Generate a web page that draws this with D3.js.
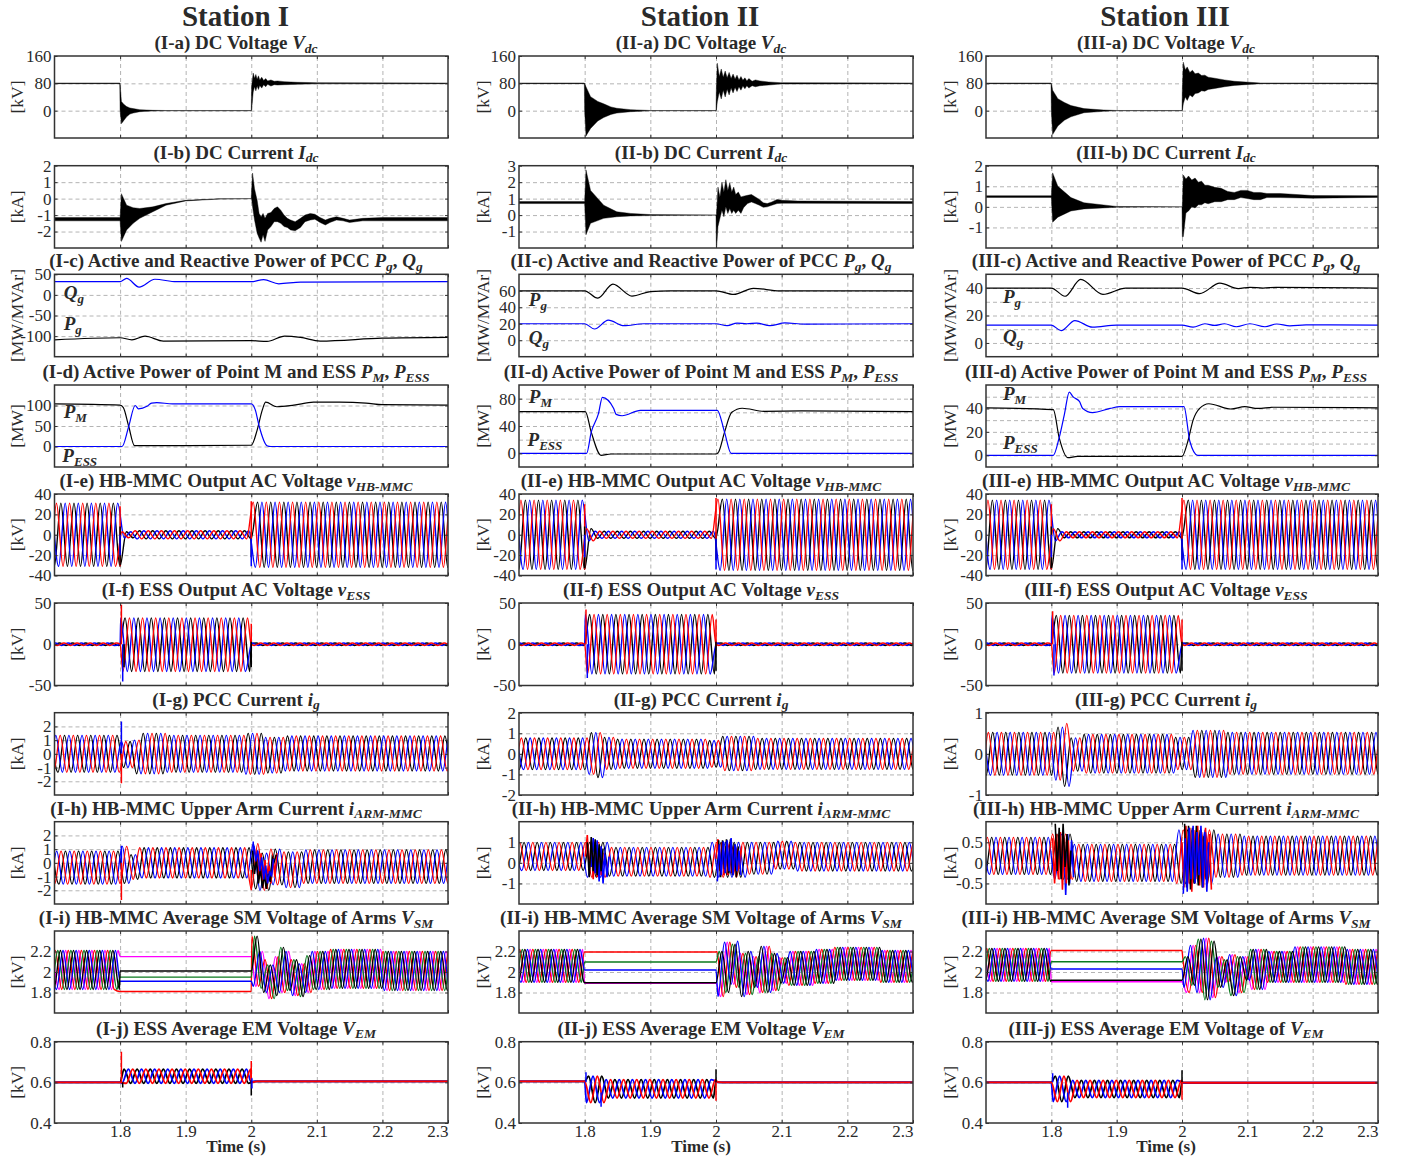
<!DOCTYPE html>
<html>
<head>
<meta charset="utf-8">
<script src="https://cdn.jsdelivr.net/npm/d3@7/dist/d3.min.js"></script>
<style>
  body { margin: 0; background: #fff; }
  svg text { font-family: "Liberation Serif", serif; fill: #2a2a2a; }
</style>
</head>
<body>
<svg id="chart" width="1402" height="1161"></svg>
<script>
// ---- labels ----
var stations = ['I', 'II', 'III'];
var rowLetters = 'abcdefghij'.split('');
var rowNames = ['DC Voltage', 'DC Current', 'Active and Reactive Power of PCC', 'Active Power of Point M and ESS',
  'HB-MMC Output AC Voltage', 'ESS Output AC Voltage', 'PCC Current', 'HB-MMC Upper Arm Current',
  'HB-MMC Average SM Voltage of Arms', 'ESS Average EM Voltage'];
var rowVars = [[['V', 'dc']], [['I', 'dc']], [['P', 'g'], ['Q', 'g']], [['P', 'M'], ['P', 'ESS']], [['v', 'HB-MMC']],
  [['v', 'ESS']], [['i', 'g']], [['i', 'ARM-MMC']], [['V', 'SM']], [['V', 'EM']]];
var rowUnits = ['[kV]', '[kA]', '[MW/MVAr]', '[MW]', '[kV]', '[kV]', '[kA]', '[kA]', '[kV]', '[kV]'];
var timeTicks = [1.8, 1.9, 2, 2.1, 2.2, 2.3];

// ---- y axes, [row][station] ----
var yDomains = [
  [[-80, 160], [-80, 160], [-80, 160]],
  [[-3, 2], [-2, 3], [-2, 2]],
  [[-150, 50], [-20, 80], [-10, 50]],
  [[-50, 150], [-20, 100], [-10, 60]],
  [[-40, 40], [-40, 40], [-40, 40]],
  [[-50, 50], [-50, 50], [-50, 50]],
  [[-3, 3], [-2, 2], [-1, 1]],
  [[-3, 3], [-2, 2], [-1, 1]],
  [[1.6, 2.4], [1.6, 2.4], [1.6, 2.4]],
  [[0.4, 0.8], [0.4, 0.8], [0.4, 0.8]]
];
var yTicks = [
  [[160, 80, 0], [160, 80, 0], [160, 80, 0]],
  [[2, 1, 0, -1, -2], [3, 2, 1, 0, -1], [2, 1, 0, -1]],
  [[50, 0, -50, -100], [60, 40, 20, 0], [40, 20, 0]],
  [[100, 50, 0], [80, 40, 0], [40, 20, 0]],
  [[40, 20, 0, -20, -40], [40, 20, 0, -20, -40], [40, 20, 0, -20, -40]],
  [[50, 0, -50], [50, 0, -50], [50, 0, -50]],
  [[2, 1, 0, -1, -2], [2, 1, 0, -1, -2], [1, 0, -1]],
  [[2, 1, 0, -1, -2], [1, 0, -1], [0.5, 0, -0.5]],
  [[2.2, 2, 1.8], [2.2, 2, 1.8], [2.2, 2, 1.8]],
  [[0.8, 0.6, 0.4], [0.8, 0.6, 0.4], [0.8, 0.6, 0.4]]
];
var yGrids = [
  [[80, 0], [80, 0], [80, 0]],
  [[1, 0, -1, -2], [2, 1, 0, -1], [1, 0, -1]],
  [[0, -50, -100], [60, 40, 20, 0], [40, 30, 20, 10, 0]],
  [[100, 50, 0], [80, 60, 40, 20, 0], [50, 40, 30, 20, 10, 0]],
  [[20, 0, -20], [20, 0, -20], [20, 0, -20]],
  [[0], [0], [0]],
  [[2, 1, 0, -1, -2], [1, 0, -1], [0.5, 0, -0.5]],
  [[2, 1, 0, -1, -2], [1, 0, -1], [0.5, 0, -0.5]],
  [[2.2, 2, 1.8], [2.2, 2, 1.8], [2.2, 2, 1.8]],
  [[0.6], [0.6], [0.6]]
];

// ---- DC voltage / current envelopes (dense ripple band) ----
var vdc1T  = [1.7, 1.7995, 1.8, 1.802, 1.806, 1.81, 1.815, 1.82, 1.83, 1.84, 1.85, 1.87, 2, 2.0005, 2.003, 2.005, 2.007, 2.009, 2.011, 2.013, 2.016, 2.019, 2.022, 2.025, 2.03, 2.035, 2.04, 2.05, 2.07, 2.1, 2.3];
var vdc1Hi = [81, 81, 80, 27, 18, 12, 8, 6, 3, 2, 1, 0.5, 0.5, 70, 110, 95, 106, 92, 102, 90, 98, 88, 94, 87, 90, 86, 87, 85, 83, 82, 81];
var vdc1Lo = [79, 79, 0, -38, -28, -18, -10, -7, -3, -2, -1, -0.5, -0.5, 0, 55, 70, 58, 72, 62, 74, 66, 76, 70, 77, 72, 76, 75, 76, 77, 78.5, 79];
var vdc2T  = [1.7, 1.7995, 1.8, 1.802, 1.809, 1.82, 1.829, 1.84, 1.849, 1.87, 1.9, 2, 2.0005, 2.002, 2.005, 2.008, 2.011, 2.014, 2.017, 2.02, 2.023, 2.026, 2.029, 2.032, 2.035, 2.038, 2.041, 2.044, 2.047, 2.05, 2.055, 2.06, 2.067, 2.08, 2.098, 2.3];
var vdc2Hi = [81, 81, 80, 70, 41, 27, 20, 11, 7, 3, 0.5, 0.5, 60, 139, 100, 122, 98, 116, 96, 112, 94, 107, 93, 104, 90, 100, 89, 96, 87, 94, 86, 90, 87, 84, 82, 81];
var vdc2Lo = [79, 79, 0, -74, -52, -30, -20, -11, -7, -3, -0.5, -0.5, 0, 26, 55, 34, 60, 40, 63, 46, 66, 52, 68, 56, 70, 60, 72, 64, 73, 66, 73, 70, 73, 75, 78, 79];
var vdc3T  = [1.7, 1.7995, 1.8, 1.802, 1.81, 1.82, 1.83, 1.85, 1.88, 1.9, 2, 2.0005, 2.002, 2.005, 2.008, 2.012, 2.016, 2.02, 2.025, 2.03, 2.035, 2.04, 2.05, 2.065, 2.08, 2.12, 2.3];
var vdc3Hi = [81, 81, 80, 60, 35, 24, 15, 6, 2, 0.5, 0.5, 60, 142, 120, 128, 112, 118, 108, 110, 103, 104, 98, 95, 90, 86, 81, 81];
var vdc3Lo = [79, 79, 0, -70, -45, -28, -18, -6, -2, -0.5, -0.5, 0, 20, 40, 30, 46, 40, 50, 52, 58, 57, 62, 65, 70, 74, 79, 79];

var idc1T  = [1.7, 1.7995, 1.8, 1.802, 1.81, 1.82, 1.83, 1.85, 1.87, 1.9, 1.95, 2, 2.0005, 2.002, 2.005, 2.009, 2.012, 2.015, 2.018, 2.021, 2.025, 2.03, 2.035, 2.04, 2.045, 2.05, 2.055, 2.06, 2.067, 2.075, 2.082, 2.09, 2.097, 2.105, 2.113, 2.12, 2.13, 2.14, 2.15, 2.17, 2.2, 2.3];
var idc1Hi = [-1.15, -1.15, -1.15, 0.3, -0.4, -0.55, -0.6, -0.5, -0.3, -0.1, -0.01, 0, 0.5, 1.55, 0.6, -0.1, -0.9, -1.1, -0.9, -1.2, -0.9, -0.85, -0.6, -0.5, -0.7, -1.0, -1.2, -1.3, -1.4, -1.2, -1.0, -0.9, -0.95, -1.15, -1.3, -1.2, -1.1, -1.2, -1.3, -1.2, -1.15, -1.15];
var idc1Lo = [-1.35, -1.35, -1.35, -2.6, -1.9, -1.5, -1.2, -0.8, -0.4, -0.14, -0.03, 0, 0, -0.5, -1.3, -2.1, -2.4, -2.65, -2.2, -2.6, -1.9, -1.7, -1.4, -1.4, -1.5, -1.7, -1.75, -1.9, -1.95, -1.75, -1.4, -1.3, -1.25, -1.45, -1.6, -1.45, -1.3, -1.35, -1.45, -1.35, -1.35, -1.35];
var idc2T  = [1.7, 1.7995, 1.8, 1.802, 1.809, 1.829, 1.849, 1.87, 1.9, 2, 2.0005, 2.001, 2.003, 2.006, 2.009, 2.012, 2.015, 2.018, 2.021, 2.024, 2.027, 2.03, 2.034, 2.038, 2.042, 2.048, 2.054, 2.06, 2.066, 2.072, 2.078, 2.085, 2.093, 2.1, 2.125, 2.3];
var idc2Hi = [0.82, 0.82, 0.82, 2.75, 1.5, 0.6, 0.2, 0.1, 0.03, 0, 0, 0.2, 1.7, 1.1, 2.0, 1.4, 2.15, 1.5, 1.95, 1.4, 1.7, 1.25, 1.4, 1.1, 1.15, 1.2, 1.25, 1.1, 0.95, 0.75, 0.7, 0.8, 0.95, 0.9, 0.85, 0.82];
var idc2Lo = [0.7, 0.7, 0.7, -1.2, -0.5, -0.2, -0.1, -0.05, -0.03, 0, -1.95, -1.95, -0.7, -0.2, 0.3, -0.1, 0.5, 0.1, 0.4, 0.1, 0.3, 0.1, 0.3, 0.1, 0.45, 0.7, 0.8, 0.7, 0.6, 0.47, 0.5, 0.6, 0.7, 0.72, 0.72, 0.7];
var idc3T  = [1.7, 1.7995, 1.8, 1.802, 1.81, 1.83, 1.85, 1.9, 2, 2.0005, 2.002, 2.006, 2.01, 2.015, 2.02, 2.025, 2.03, 2.035, 2.04, 2.05, 2.06, 2.07, 2.08, 2.09, 2.1, 2.11, 2.12, 2.13, 2.15, 2.2, 2.3];
var idc3Hi = [0.54, 0.54, 0.54, 1.65, 1.0, 0.45, 0.2, 0.02, 0, 0, 1.55, 1.35, 1.5, 1.3, 1.4, 1.2, 1.25, 1.05, 1.05, 0.95, 0.9, 0.75, 0.7, 0.8, 0.8, 0.7, 0.7, 0.65, 0.65, 0.55, 0.54];
var idc3Lo = [0.46, 0.46, 0.46, -0.75, -0.5, -0.2, -0.1, -0.02, 0, -1.45, -1.45, -0.3, -0.2, 0, -0.05, 0.1, 0.1, 0.2, 0.15, 0.25, 0.25, 0.35, 0.35, 0.45, 0.4, 0.35, 0.35, 0.45, 0.45, 0.42, 0.46];

// ---- PCC power ----
var pg1T = [1.7, 1.8, 1.818, 1.838, 1.866, 2, 2.024, 2.051, 2.075, 2.105, 2.2, 2.3];
var pg1V = [-109, -104, -109, -100, -112, -111, -113, -100, -103, -112, -105, -103];
var qg1T = [1.7, 1.8, 1.81, 1.829, 1.853, 1.886, 2, 2.019, 2.042, 2.075, 2.3];
var qg1V = [32, 32, 40, 19, 38, 32, 32, 37, 27, 31, 32];
var pg2T = [1.7, 1.8, 1.82, 1.843, 1.872, 1.9, 1.93, 2, 2.027, 2.057, 2.097, 2.3];
var pg2V = [60, 60, 51, 68, 53.6, 59, 60, 60, 55.6, 63, 60, 60];
var qg2T = [1.7, 1.8, 1.815, 1.836, 1.86, 1.89, 2, 2.017, 2.032, 2.047, 2.062, 2.082, 2.105, 2.135, 2.3];
var qg2V = [20, 20, 13.6, 24.4, 17.6, 20, 20, 17.6, 20.8, 20, 20.8, 17.6, 21, 19.6, 20];
var pg3T = [1.7, 1.8, 1.821, 1.845, 1.879, 1.914, 2, 2.027, 2.058, 2.086, 2.104, 2.124, 2.144, 2.3];
var pg3V = [40, 40, 34, 46.3, 35.4, 40, 40, 35.9, 43.6, 39.6, 40.5, 40, 40.5, 40];
var qg3T = [1.7, 1.8, 1.815, 1.836, 1.863, 1.9, 2, 2.017, 2.035, 2.05, 2.065, 2.083, 2.104, 2.127, 2.145, 2.165, 2.19, 2.3];
var qg3V = [13, 13, 9, 16.3, 11.5, 13, 13, 11.5, 14, 12.8, 14, 11.8, 14, 11.8, 13.8, 12.5, 13.2, 13];

// ---- point M / ESS power ----
var pm1T = [1.7, 1.8, 1.805, 1.813, 1.822, 1.9, 2, 2.009, 2.017, 2.022, 2.039, 2.065, 2.095, 2.135, 2.175, 2.2, 2.3];
var pm1V = [104, 101, 95, 50, 2, 2, 3, 40, 90, 108, 97, 101, 108, 108, 106, 102, 101];
var pe1T = [1.7, 1.803, 1.813, 1.823, 1.828, 1.841, 1.848, 1.856, 1.88, 2, 2.006, 2.012, 2.024, 2.03, 2.3];
var pe1V = [0, 0, 48, 100, 92, 98, 106, 107, 104, 104, 90, 50, 2, 0, 0];
var pm2T = [1.7, 1.801, 1.81, 1.825, 1.84, 2, 2.004, 2.013, 2.024, 2.04, 2.073, 2.13, 2.3];
var pm2V = [61, 61, 31, -3, -1, -1, 2, 31, 60, 66, 61.5, 62, 61];
var pe2T = [1.7, 1.803, 1.81, 1.821, 1.827, 1.844, 1.848, 1.857, 1.885, 2.002, 2.013, 2.023, 2.3];
var pe2V = [0, 0, 31, 58, 82, 66, 57, 55, 63, 63, 31, 0, 0];
var pm3T = [1.7, 1.803, 1.812, 1.825, 1.84, 2, 2.009, 2.017, 2.027, 2.041, 2.075, 2.096, 2.116, 2.14, 2.3];
var pm3V = [40.5, 39, 15, -2, -1, -1, 12, 30, 40, 44, 39.5, 41.5, 40, 41, 40.5];
var pe3T = [1.7, 1.803, 1.812, 1.82, 1.8275, 1.833, 1.843, 1.848, 1.863, 1.89, 1.905, 2.003, 2.012, 2.024, 2.3];
var pe3V = [0, 0, 15, 35, 54, 50, 46, 40, 36.5, 40, 41.5, 41.5, 12, 0, 0];

// ---- waveforms: each row is [upper crest, lower crest, valid until t] ----
var ve1 = [[31, -31, 1.8], [3, -3, 1.82], [4, -4, 2.0], [32, -32, 2.4]];
var ve2 = [[34, -34, 1.8], [6, -6, 1.815], [3.5, -3.5, 2.0], [35, -35, 2.4]];
var ve3 = [[34, -34, 1.8], [6, -6, 1.815], [3, -3, 2.0], [34, -34, 2.4]];
var vf1 = [[1.5, -1.5, 1.8], [32, -33, 2.0], [1.5, -1.5, 2.4]];
var vf2 = [[1.5, -1.5, 1.8], [36, -36, 2.0], [1.5, -1.5, 2.4]];
var vf3 = [[1.5, -1.5, 1.8], [35, -35, 2.0], [1.5, -1.5, 2.4]];
var ig1 = [[1.35, -1.35, 1.8], [0.9, -1.0, 1.822], [1.0, -1.45, 1.835], [1.5, -1.45, 1.87], [1.35, -1.35, 1.99], [1.5, -1.5, 2.02], [1.2, -1.4, 2.05], [1.3, -1.25, 2.4]];
var ig2 = [[0.77, -0.77, 1.805], [1.03, -1.0, 1.82], [1.03, -1.15, 1.83], [0.8, -0.75, 1.85], [0.72, -0.7, 1.99], [0.65, -0.65, 2.01], [0.85, -0.82, 2.06], [0.75, -0.75, 2.4]];
var ig3 = [[0.52, -0.52, 1.805], [0.65, -0.64, 1.82], [0.74, -0.79, 1.83], [0.39, -0.42, 1.85], [0.47, -0.47, 1.99], [0.4, -0.38, 2.015], [0.57, -0.57, 2.07], [0.52, -0.5, 2.4]];
var ih1 = [[0.85, -1.55, 1.8], [1.2, -1.5, 1.815], [0.6, -1.2, 1.83], [1.1, -1.1, 2.0], [1.4, -1.9, 2.012], [0.7, -2, 2.03], [1, -1.6, 2.05], [0.8, -1.8, 2.08], [0.95, -1.5, 2.4]];
var ih2 = [[1.0, -0.38, 1.8], [1.0, -0.7, 1.835], [0.75, -0.65, 1.99], [1.0, -0.7, 2.05], [1.0, -0.55, 2.09], [1.05, -0.3, 2.12], [1.0, -0.4, 2.4]];
var ih3 = [[0.62, -0.28, 1.8], [0.7, -0.4, 1.835], [0.45, -0.45, 1.99], [0.8, -0.5, 2.05], [0.7, -0.35, 2.09], [0.65, -0.3, 2.4]];
var sm1 = [[2.21, 1.83, 1.8], [null, null, 2.0], [2.35, 1.86, 2.012], [2.2, 1.84, 2.018], [2.12, 1.8, 2.025], [2.07, 1.74, 2.035], [2.15, 1.77, 2.042], [2.24, 1.8, 2.052], [2.2, 1.82, 2.06], [2.12, 1.77, 2.072], [2.08, 1.76, 2.082], [2.16, 1.8, 2.092], [2.2, 1.83, 2.12], [2.22, 1.84, 2.2], [2.2, 1.82, 2.4]];
var sm2 = [[2.22, 1.9, 1.8], [null, null, 2.0], [2.2, 1.76, 2.012], [2.29, 1.8, 2.022], [2.27, 1.88, 2.03], [2.3, 1.85, 2.036], [2.18, 1.76, 2.046], [2.2, 1.78, 2.056], [2.15, 1.85, 2.066], [2.25, 1.8, 2.085], [2.18, 1.82, 2.095], [2.14, 1.89, 2.11], [2.2, 1.87, 2.15], [2.22, 1.89, 2.18], [2.24, 1.92, 2.25], [2.21, 1.9, 2.4]];
var sm3 = [[2.23, 1.91, 1.8], [null, null, 2.0], [2.15, 1.85, 2.005], [2.15, 1.8, 2.012], [2.26, 1.87, 2.022], [2.32, 1.8, 2.032], [2.33, 1.73, 2.043], [2.3, 1.75, 2.053], [2.15, 1.85, 2.063], [2.12, 1.9, 2.073], [2.17, 1.77, 2.085], [2.15, 1.8, 2.095], [2.15, 1.92, 2.105], [2.22, 1.83, 2.13], [2.2, 1.9, 2.17], [2.245, 1.9, 2.25], [2.22, 1.88, 2.4]];
var em1 = [[0.6, 0.6, 1.802], [0.665, 0.595, 2.0], [0.605, 0.605, 2.4]];
var em2 = [[0.605, 0.605, 1.802], [0.63, 0.5, 1.83], [0.613, 0.523, 2.0], [0.6, 0.6, 2.4]];
var em3 = [[0.6, 0.6, 1.802], [0.63, 0.505, 1.83], [0.61, 0.525, 2.0], [0.598, 0.598, 2.4]];

// first crest of each phase after 1.68 s, [black, blue, red]
var phaseE = [0.0097, 0.0163, 0.003];
var phaseF = [0.0076, 0.001, 0.0143];
var phaseG = [[0.0153, 0.002, 0.0087], [0.0103, 0.017, 0.0036], [0.0103, 0.017, 0.0036]];
var phaseH = [[0.0167, 0.0033, 0.01], [0.0077, 0.0143, 0.001], [0.0087, 0.0153, 0.002]];
var phaseJ = [0.006, 0.0127, 0.0193];

// SM arms: [magenta, red, green, blue, black]
var phaseArms = [0.017, 0.001, 0.005, 0.013, 0.009];
var smLevels = [[2.15, 1.81, 1.95, 1.91, 2.01], [1.89, 2.195, 2.098, 2.02, 1.895], [1.905, 2.21, 2.1, 2.03, 1.92]];
var fLevels = [0, 0, 0];
var emLevels = [0.6, 0.605, 0.6];

// short excursions: [t, from, to, phase] with phase 0 black, 1 blue, 2 red
var spikes = {
  e1: [[1.8, -31, 28, 2], [1.8, -30, 8, 0], [1.8, 0, -20, 1], [2, 3, -22, 0], [2, 33, -4, 2], [2, -4, -31, 1]],
  e2: [[1.8, -34, 30, 2], [1.8, -33, 8, 0], [1.8, 0, -22, 1], [2, 3, -25, 0], [2, 36, -4, 2], [2, -4, -34, 1]],
  e3: [[1.8, -34, 30, 2], [1.8, -33, 8, 0], [1.8, 0, -22, 1], [2, 3, -25, 0], [2, 36, -4, 2], [2, -4, -34, 1]],
  f1: [[1.802, 0, 48, 2], [1.804, 0, -45, 1], [1.806, 0, -28, 0], [2, 25, -3, 2], [2, -28, 3, 0]],
  f2: [[1.802, 0, 42, 2], [1.804, 0, -41, 1], [2, 30, -3, 2], [2, -32, 3, 0]],
  f3: [[1.802, 0, 40, 2], [1.804, 0, -38, 1], [2, 30, -3, 2], [2, -32, 3, 0]],
  g1: [[1.802, 0, 2.35, 1], [1.802, 0, -2.15, 2]],
  g2: [],
  g3: [],
  h1: [[1.802, -0.5, 1.25, 1], [1.802, 0, -2.7, 2], [2.003, 0, 1.55, 1], [2, -0.5, -2, 2]],
  h2: [],
  h3: [],
  j1: [[1.802, 0.6, 0.75, 2], [1.804, 0.6, 0.575, 0], [2, 0.61, 0.705, 2], [2, 0.61, 0.535, 0], [2.001, 0.62, 0.57, 1]],
  j2: [[1.802, 0.6, 0.65, 1], [1.825, 0.55, 0.48, 1], [2, 0.6, 0.665, 0], [2, 0.6, 0.51, 2]],
  j3: [[1.802, 0.6, 0.645, 1], [1.825, 0.55, 0.475, 1], [2, 0.6, 0.66, 0], [2, 0.6, 0.515, 2]]
};

// arm current tangles after the switching events: [start t, phase, values every 3 ms]
var tangleH1 = [
  [2.006, 2, [-0.5, 0.9, -1.2, 0.7, -1.7, 0.2, -1.9, -0.2, -1.5, 0.4, -1.0, 0.7]],
  [2.002, 0, [0.9, -0.8, 0.3, -1.5, -0.4, -1.85, -0.9, -1.9, -0.8, -1.4, 0.4, 0.1, 0.6]],
  [2.004, 1, [1.2, 0.1, 0.9, -0.6, 0.4, -1.2, -0.2, -1.5, -0.6, -1.0, 0.3]]
];
var tangleH2 = [
  [1.801, 2, [0.3, 1.35, -0.4, 1.05, -0.8, 0.9, -0.7, 0.7, -0.6, 0.5]],
  [1.81, 1, [-0.2, 1.2, -0.5, 1.1, -0.9, 0.8, -1.0, 0.4, -0.7, 0.3]],
  [1.804, 0, [1.0, -0.7, 1.25, -0.4, 1.15, -0.6, 0.9, -0.4, 0.7]],
  [2, 2, [0.2, 1.15, -0.4, 1.0, -0.6, 0.8, -0.6, 0.9, -0.5, 0.8, -0.4, 0.7, -0.3, 0.8]],
  [2.004, 0, [1.1, -0.7, 1.1, -0.3, 1.15, -0.5, 1.15, -0.6, 0.9, -0.7, 0.8]],
  [2.002, 1, [-0.9, 0.9, -0.6, 1.05, -0.5, 1.1, -0.4, 1.2, -0.6, 0.9, -0.4, 0.6, -0.6]]
];
var tangleH3 = [
  [1.81, 1, [0.1, 0.75, -0.3, 0.6, -0.78, 0.7, -0.5, 0.55, -0.35]],
  [1.802, 2, [0.6, -0.5, 0.7, -0.4, 0.75, -0.65, 0.6, -0.5, 0.55, -0.4]],
  [1.806, 0, [0.95, -0.2, 0.85, -0.4, 0.95, -0.1, 0.7, -0.55, 0.3]],
  [2, 2, [0.5, -0.6, 0.9, -0.5, 0.85, -0.7, 0.8, -0.4, 0.9, -0.55, 0.75, -0.6, 0.85, -0.5, 0.7, -0.65]],
  [2.004, 0, [0.95, -0.6, 0.9, -0.65, 0.85, -0.5, 0.9, -0.55, 0.8, -0.6, 0.65, -0.4]],
  [2.002, 1, [-0.75, 0.6, -0.7, 0.85, -0.4, 0.9, -0.5, 0.75, -0.3, 0.9, -0.6, 0.75, -0.7, 0.5]]
];

// traces labels: [t, value, letter, subscript]
var powerNotes = [
  [[1.714, -10, 'Q', 'g'], [1.714, -85, 'P', 'g']],
  [[1.715, 41, 'P', 'g'], [1.715, -5, 'Q', 'g']],
  [[1.726, 29, 'P', 'g'], [1.726, 0, 'Q', 'g']]
];
var pointNotes = [
  [[1.714, 69, 'P', 'M'], [1.712, -38, 'P', 'ESS']],
  [[1.715, 73, 'P', 'M'], [1.713, 11, 'P', 'ESS']],
  [[1.726, 47, 'P', 'M'], [1.726, 5, 'P', 'ESS']]
];

// ---- tables built from the arrays above ----
var vdcBands = [[vdc1T, vdc1Hi, vdc1Lo], [vdc2T, vdc2Hi, vdc2Lo], [vdc3T, vdc3Hi, vdc3Lo]];
var idcBands = [[idc1T, idc1Hi, idc1Lo], [idc2T, idc2Hi, idc2Lo], [idc3T, idc3Hi, idc3Lo]];
var powerLines = [[[pg1T, pg1V, '#000'], [qg1T, qg1V, '#00f']], [[pg2T, pg2V, '#000'], [qg2T, qg2V, '#00f']], [[pg3T, pg3V, '#000'], [qg3T, qg3V, '#00f']]];
var pointLines = [[[pm1T, pm1V, '#000'], [pe1T, pe1V, '#00f']], [[pm2T, pm2V, '#000'], [pe2T, pe2V, '#00f']], [[pm3T, pm3V, '#000'], [pe3T, pe3V, '#00f']]];
var phaseColors = ['#000', '#00f', '#f00'];
var armColors = ['#f0f', '#f00', '#0a7a1e', '#00f', '#000'];
var acRows = [[ve1, ve2, ve3], [vf1, vf2, vf3], [ig1, ig2, ig3], [ih1, ih2, ih3]];
var acPhases = [[phaseE, phaseE, phaseE], [phaseF, phaseF, phaseF], phaseG, phaseH];
var acKeys = ['e', 'f', 'g', 'h'];
var tangles = [tangleH1, tangleH2, tangleH3];
var smRows = [sm1, sm2, sm3];
var emRows = [em1, em2, em3];

// ---- layout ----
var svg = d3.select('#chart');
var colX = [[54.5, 448], [519, 913], [986, 1378]];
var titleX = [236, 701, 1166];
var headX = [235.5, 700, 1165];
var labelX = [17, 483, 950];
var rowY = [[56, 138], [165.7, 248], [274.3, 356.7], [385, 467], [494, 575.5], [603, 685.5], [712.7, 795], [821.7, 904], [931, 1013], [1041.7, 1123]];
var TICK_FONT = 17;
var clipId = 0;

function crests(rows, phase, level) {
  var pts = [];
  for (var k = 0; k < 66; k++) {
    var t = 1.68 + phase + k * 0.01;
    var row = rows.find(function(r) { return t < r[2]; });
    if (!row) continue;
    var v = row[k % 2];
    if (v === null) v = level;
    pts.push([t, v]);
  }
  if (level !== undefined) {
    pts.push([1.8, level], [2, level]);
    pts.sort(function(a, b) { return a[0] - b[0]; });
  }
  return pts;
}

function addTitle(col, row) {
  var g = svg.append('text').attr('x', titleX[col]).attr('y', rowY[row][0] - 7)
    .attr('text-anchor', 'middle').attr('font-size', 19).attr('font-weight', 'bold');
  var name = rowNames[row];
  if (col === 2 && row === 9) name += ' of';
  g.append('tspan').text('(' + stations[col] + '-' + rowLetters[row] + ') ' + name + ' ');
  rowVars[row].forEach(function(v, i) {
    if (i > 0) g.append('tspan').attr('dy', -3.5).text(', ');
    g.append('tspan').attr('font-style', 'italic').text(v[0]);
    g.append('tspan').attr('font-style', 'italic').attr('font-size', 13.5).attr('dy', 3.5).text(v[1]);
  });
}

function addNote(g, x, y, n) {
  var t = g.append('text').attr('x', x(n[0])).attr('y', y(n[1]))
    .attr('font-size', 19).attr('font-weight', 'bold').attr('font-style', 'italic');
  t.append('tspan').text(n[2]);
  t.append('tspan').attr('font-size', 13).attr('dy', 4).text(n[3]);
}

function drawPanel(col, row) {
  var x = d3.scaleLinear().domain([1.7, 2.3]).range(colX[col]);
  var y = d3.scaleLinear().domain(yDomains[row][col]).range([rowY[row][1], rowY[row][0]]);
  var top = rowY[row][0], bottom = rowY[row][1], left = colX[col][0], right = colX[col][1];
  var g = svg.append('g');
  var id = 'clip' + (clipId++);
  g.append('clipPath').attr('id', id).append('rect')
    .attr('x', left).attr('y', top).attr('width', right - left).attr('height', bottom - top);

  // grid
  var gridX = g.append('g').attr('transform', 'translate(0,' + bottom + ')')
    .call(d3.axisBottom(x).tickValues(timeTicks.slice(0, 5)).tickSize(top - bottom).tickFormat(''));
  var gridY = g.append('g').attr('transform', 'translate(' + left + ',0)')
    .call(d3.axisLeft(y).tickValues(yGrids[row][col]).tickSize(left - right).tickFormat(''));
  [gridX, gridY].forEach(function(a) {
    a.select('.domain').remove();
    a.selectAll('line').attr('stroke', '#b4b4b4').attr('stroke-width', 1).attr('stroke-dasharray', '4,3');
  });

  var plot = g.append('g').attr('clip-path', 'url(#' + id + ')');
  var line = d3.line().x(function(d) { return x(d[0]); }).y(function(d) { return y(d[1]); });
  var smooth = d3.line().x(function(d) { return x(d[0]); }).y(function(d) { return y(d[1]); }).curve(d3.curveMonotoneX);

  if (row < 2) {
    var b = (row === 0 ? vdcBands : idcBands)[col];
    var area = d3.area().x(function(d, i) { return x(b[0][i]); })
      .y0(function(d, i) { return y(b[2][i]); }).y1(function(d, i) { return y(b[1][i]); });
    plot.append('path').attr('d', area(b[0])).attr('fill', '#000').attr('stroke', '#000').attr('stroke-width', 0.4);
  } else if (row < 4) {
    (row === 2 ? powerLines : pointLines)[col].forEach(function(s) {
      var pts = s[0].map(function(t, i) { return [t, s[1][i]]; });
      plot.append('path').attr('d', smooth(pts)).attr('fill', 'none').attr('stroke', s[2]).attr('stroke-width', 1.2);
    });
    (row === 2 ? powerNotes : pointNotes)[col].forEach(function(n) { addNote(g, x, y, n); });
  } else if (row < 8) {
    var a = row - 4;
    phaseColors.forEach(function(c, p) {
      var level = row === 5 ? fLevels[col] : undefined;
      plot.append('path').attr('d', smooth(crests(acRows[a][col], acPhases[a][col][p], level)))
        .attr('fill', 'none').attr('stroke', c).attr('stroke-width', row === 4 || row === 5 ? 1.4 : 1.3);
    });
    spikes[acKeys[a] + (col + 1)].forEach(function(s) {
      plot.append('path').attr('d', line([[s[0], s[1]], [s[0], s[2]]]))
        .attr('fill', 'none').attr('stroke', phaseColors[s[3]]).attr('stroke-width', 1.5);
    });
    if (row === 7) {
      tangles[col].forEach(function(s) {
        var pts = s[2].map(function(v, i) { return [s[0] + i * 0.003, v]; });
        plot.append('path').attr('d', line(pts)).attr('fill', 'none').attr('stroke', phaseColors[s[1]]).attr('stroke-width', 1.6);
      });
    }
  } else if (row === 8) {
    armColors.forEach(function(c, p) {
      plot.append('path').attr('d', smooth(crests(smRows[col], phaseArms[p], smLevels[col][p])))
        .attr('fill', 'none').attr('stroke', c).attr('stroke-width', 1.4);
    });
  } else {
    phaseColors.forEach(function(c, p) {
      plot.append('path').attr('d', smooth(crests(emRows[col], phaseJ[p], emLevels[col])))
        .attr('fill', 'none').attr('stroke', c).attr('stroke-width', 1.8);
    });
    spikes['j' + (col + 1)].forEach(function(s) {
      plot.append('path').attr('d', line([[s[0], s[1]], [s[0], s[2]]]))
        .attr('fill', 'none').attr('stroke', phaseColors[s[3]]).attr('stroke-width', 1.5);
    });
  }

  // axes, MATLAB style ticks point inward on all four sides
  var fmt = function(d) { return String(d); };
  var axL = g.append('g').attr('transform', 'translate(' + left + ',0)')
    .call(d3.axisLeft(y).tickValues(yTicks[row][col]).tickSize(-3).tickPadding(3).tickFormat(fmt));
  var axR = g.append('g').attr('transform', 'translate(' + right + ',0)')
    .call(d3.axisRight(y).tickValues(yTicks[row][col]).tickSize(-3).tickFormat(''));
  var axT = g.append('g').attr('transform', 'translate(0,' + top + ')')
    .call(d3.axisTop(x).tickValues(timeTicks).tickSize(-3).tickFormat(''));
  var axB = g.append('g').attr('transform', 'translate(0,' + bottom + ')')
    .call(d3.axisBottom(x).tickValues(timeTicks).tickSize(-3).tickPadding(2).tickFormat(row === 9 ? fmt : ''));
  [axL, axR, axT, axB].forEach(function(a) {
    a.select('.domain').remove();
    a.selectAll('line').attr('stroke', '#333');
    a.selectAll('text').attr('font-size', TICK_FONT).attr('font-family', '"Liberation Serif", serif');
  });
  if (row === 9) axB.selectAll('.tick').filter(function(d) { return d === 2.3; }).select('text').attr('text-anchor', 'end');

  g.append('rect').attr('x', left).attr('y', top).attr('width', right - left).attr('height', bottom - top)
    .attr('fill', 'none').attr('stroke', '#333').attr('stroke-width', 1.5);

  svg.append('text').attr('transform', 'translate(' + labelX[col] + ',' + ((top + bottom) / 2) + ') rotate(-90)')
    .attr('text-anchor', 'middle').attr('dy', '0.35em').attr('font-size', 17.5).text(rowUnits[row]);

  addTitle(col, row);
}

stations.forEach(function(s, col) {
  svg.append('text').attr('x', headX[col]).attr('y', 26).attr('text-anchor', 'middle')
    .attr('font-size', 29).attr('font-weight', 'bold').text('Station ' + s);
  rowNames.forEach(function(n, row) { drawPanel(col, row); });
  svg.append('text').attr('x', titleX[col]).attr('y', 1152).attr('text-anchor', 'middle')
    .attr('font-size', 17).attr('font-weight', 'bold').text('Time (s)');
});
</script>
</body>
</html>
